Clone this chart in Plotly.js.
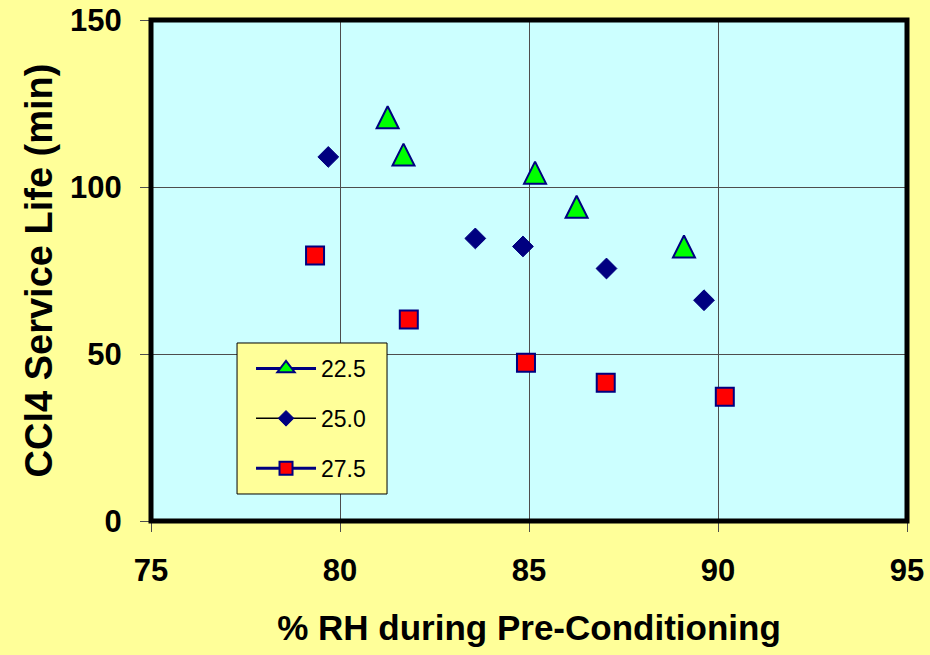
<!DOCTYPE html>
<html>
<head>
<meta charset="utf-8">
<script src="https://cdn.plot.ly/plotly-3.0.1.min.js"></script>
<style>
html,body{margin:0;padding:0;background:#FFFF99;}
#chart{width:930px;height:655px;}
</style>
</head>
<body>
<div id="chart"></div>
<script>
// Data
var seriesNames = ['22.5', '25.0', '27.5'];
var rh225 = [81.26, 81.68, 85.16, 86.26, 89.10];
var life225 = [120.9, 109.7, 104.3, 94.1, 82.2];
var rh250 = [79.69, 83.58, 84.84, 87.05, 89.63];
var life250 = [109.0, 84.6, 82.2, 75.6, 66.1];
var rh275 = [79.34, 81.82, 84.92, 87.03, 90.18];
var life275 = [79.5, 60.3, 47.4, 41.4, 37.2];
var xTicks = [75, 80, 85, 90, 95];
var yTicks = [0, 50, 100, 150];

var FONT = 'Liberation Sans, Arial, sans-serif';
var NAVY = '#000080';

var triMarker = {symbol: 'arrow-down', angle: 180, size: 22, standoff: 11,
  color: '#00FF00', line: {color: NAVY, width: 2}};
var diaMarker = {symbol: 'diamond', size: 16, color: NAVY, line: {color: NAVY, width: 1}};
var sqMarker = {symbol: 'square', size: 18, color: '#FF0000', line: {color: NAVY, width: 2}};

var traces = [
  {x: rh225, y: life225, mode: 'markers', type: 'scatter', marker: triMarker, showlegend: false, cliponaxis: false},
  {x: rh250, y: life250, mode: 'markers', type: 'scatter', marker: diaMarker, showlegend: false, cliponaxis: false},
  {x: rh275, y: life275, mode: 'markers', type: 'scatter', marker: sqMarker, showlegend: false, cliponaxis: false},
  // legend entries
  {x: [null], y: [null], name: seriesNames[0], legendgroup: 'a', mode: 'lines+markers', type: 'scatter',
   line: {color: NAVY, width: 3},
   marker: {symbol: 'triangle-up', size: 15, color: '#00FF00', line: {color: NAVY, width: 2}}},
  {x: [null], y: [null], name: seriesNames[1], legendgroup: 'b', mode: 'lines+markers', type: 'scatter',
   line: {color: '#000000', width: 1.5},
   marker: {symbol: 'diamond', size: 12, color: NAVY, line: {color: NAVY, width: 1}}},
  {x: [null], y: [null], name: seriesNames[2], legendgroup: 'c', mode: 'lines+markers', type: 'scatter',
   line: {color: NAVY, width: 3},
   marker: {symbol: 'square', size: 13, color: '#FF0000', line: {color: NAVY, width: 2}}}
];

var layout = {
  width: 930, height: 655,
  paper_bgcolor: '#FFFF99',
  plot_bgcolor: '#CCFFFF',
  margin: {l: 151, r: 23, t: 20, b: 134, pad: 0},
  font: {family: FONT, color: '#000000'},
  xaxis: {
    range: [75, 95], tickvals: xTicks, ticktext: xTicks.map(String),
    showgrid: true, gridcolor: '#4d4d4d', gridwidth: 1,
    zeroline: false, showline: false,
    ticks: 'outside', ticklen: 10, tickcolor: '#4d4d4d', tickwidth: 1,
    ticklabelstandoff: 12,
    tickfont: {family: FONT, size: 31, weight: 'bold', color: '#000'},
    title: {text: '% RH during Pre-Conditioning', font: {family: FONT, size: 35, weight: 'bold', color: '#000'}, standoff: 28}
  },
  yaxis: {
    range: [0, 150], tickvals: yTicks, ticktext: yTicks.map(String),
    showgrid: true, gridcolor: '#4d4d4d', gridwidth: 1,
    zeroline: false, showline: false,
    ticks: 'outside', ticklen: 10, tickcolor: '#4d4d4d', tickwidth: 1,
    ticklabelstandoff: 12,
    tickfont: {family: FONT, size: 31, weight: 'bold', color: '#000'},
    title: {text: 'CCl4 Service Life (min)', font: {family: FONT, size: 38, weight: 'bold', color: '#000'}, standoff: 5}
  },
  shapes: [
    {type: 'rect', xref: 'paper', yref: 'paper', x0: 0, x1: 1, y0: 0, y1: 1,
     line: {color: '#000000', width: 5}, layer: 'above'},
    {type: 'rect', xref: 'paper', yref: 'paper', x0: 0.1138, x1: 0.3122, y0: 0.0539, y1: 0.3553,
     fillcolor: '#FFFF99', line: {color: '#000000', width: 1}, layer: 'above'}
  ],
  showlegend: true,
  legend: {
    x: 0.1323, y: 0.3473, xanchor: 'left', yanchor: 'top',
    bgcolor: 'rgba(0,0,0,0)', borderwidth: 0,
    font: {family: FONT, size: 23, color: '#000'},
    traceorder: 'grouped', tracegroupgap: 17, itemwidth: 60
  }
};

Plotly.newPlot('chart', traces, layout, {displayModeBar: false, staticPlot: true});
</script>
</body>
</html>
